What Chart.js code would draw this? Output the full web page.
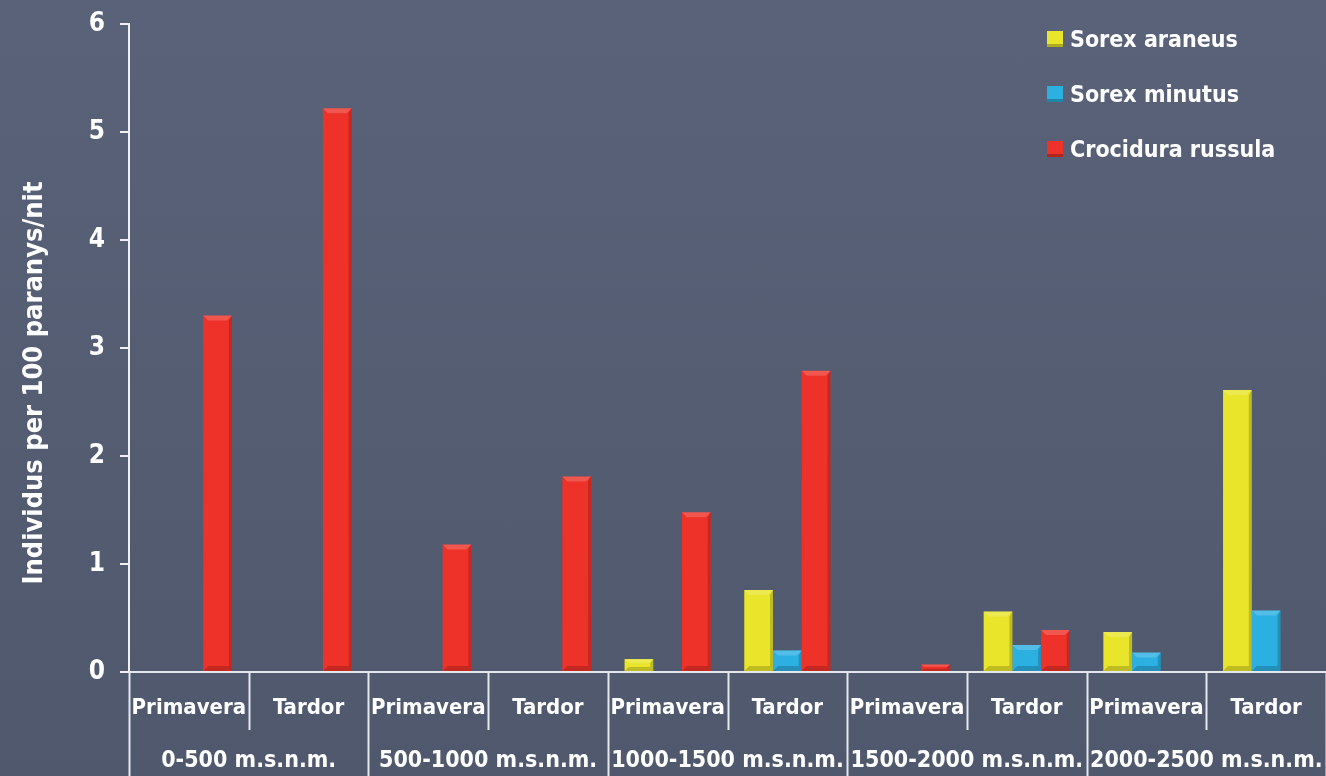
<!DOCTYPE html>
<html lang="ca">
<head>
<meta charset="UTF-8">
<title>Musaranyes per altitud</title>
<script src="https://cdn.jsdelivr.net/npm/chart.js"></script>
<style>
  html, body { margin: 0; padding: 0; }
  body {
    width: 1326px; height: 776px; overflow: hidden; position: relative;
    background: linear-gradient(#5a6279, #50586d);
    font-family: 'Liberation Sans Narrow', 'DejaVu Sans Condensed', Roboto, sans-serif;
  }
  #wrap { position: absolute; left: 0; top: 0; width: 1326px; height: 776px; }
  #llegenda { position: absolute; left: 1047px; top: 11px; color: #fff; font-weight: bold; font-size: 23px; }
  #llegenda div { display: flex; align-items: center; height: 55px; }
  #llegenda span.q { width: 16px; height: 16px; margin-right: 7px; box-sizing: border-box; border-bottom: 3px solid rgba(0,0,0,0.25); }
</style>
</head>
<body>
<div id="wrap"><canvas id="grafic" width="1326" height="776"></canvas></div>
<div id="llegenda"></div>

<script>
  const estacions = ['Primavera', 'Tardor', 'Primavera', 'Tardor', 'Primavera', 'Tardor', 'Primavera', 'Tardor', 'Primavera', 'Tardor'];
  const altituds = ['0-500 m.s.n.m.', '500-1000 m.s.n.m.', '1000-1500 m.s.n.m.', '1500-2000 m.s.n.m.', '2000-2500 m.s.n.m.'];
  const especies = ['Sorex araneus', 'Sorex minutus', 'Crocidura russula'];
  const colors = ['#e9e52b', '#2cb0e2', '#ee3129'];

  const araneus = [null, null, null, null, 0.12, 0.76, null, 0.56, 0.37, 2.61];
  const minutus = [null, null, null, null, null, 0.20, null, 0.25, 0.18, 0.57];
  const russula = [3.30, 5.22, 1.18, 1.81, 1.48, 2.79, 0.07, 0.39, null, null];

  const yTicks = [0, 1, 2, 3, 4, 5, 6];
  const titolY = 'Individus per 100 paranys/nit';
  const font = "'Liberation Sans Narrow', 'DejaVu Sans Condensed', Roboto, sans-serif";

  const series = [araneus, minutus, russula];

  // llegenda html
  const lleg = document.getElementById('llegenda');
  especies.forEach((nom, i) => {
    const d = document.createElement('div');
    d.innerHTML = '<span class="q" style="background:' + colors[i] + '"></span>' + nom;
    lleg.appendChild(d);
  });

  // separadors verticals sota l'eix x
  const separadors = {
    id: 'separadors',
    afterDraw(chart) {
      const x = chart.scales.x;
      const ctx = chart.ctx;
      const base = chart.chartArea.bottom;
      const n = estacions.length;
      ctx.save();
      ctx.strokeStyle = '#e6e8ee';
      ctx.lineWidth = 2;
      for (let i = 0; i <= n; i++) {
        let px;
        if (i === 0) px = x.left;
        else if (i === n) px = x.right;
        else px = (x.getPixelForTick(i - 1) + x.getPixelForTick(i)) / 2;
        const fi = i % 2 === 0 ? chart.height : base + 58;
        ctx.beginPath();
        ctx.moveTo(Math.round(px) + 0.5, base);
        ctx.lineTo(Math.round(px) + 0.5, fi);
        ctx.stroke();
      }
      // títol eix y
      ctx.translate(35, 383);
      ctx.rotate(-Math.PI / 2);
      ctx.fillStyle = '#ffffff';
      ctx.font = 'bold 27px ' + font;
      ctx.textAlign = 'center';
      ctx.textBaseline = 'middle';
      ctx.fillText(titolY, 0, 0);
      ctx.restore();
    }
  };

  // efecte bisellat de les barres
  const bisell = {
    id: 'bisell',
    afterDatasetsDraw(chart) {
      const ctx = chart.ctx;
      ctx.save();
      chart.data.datasets.forEach((ds, di) => {
        chart.getDatasetMeta(di).data.forEach((bar, j) => {
          if (ds.data[j] == null) return;
          const p = bar.getProps(['x', 'y', 'base', 'width'], true);
          const l = p.x - p.width / 2, r = p.x + p.width / 2;
          const h = p.base - p.y;
          const b = Math.min(5, h / 3);
          ctx.fillStyle = 'rgba(255,255,255,0.18)';
          ctx.beginPath();
          ctx.moveTo(l, p.y); ctx.lineTo(r, p.y); ctx.lineTo(r - b, p.y + b); ctx.lineTo(l + b, p.y + b);
          ctx.closePath(); ctx.fill();
          ctx.fillStyle = 'rgba(0,0,0,0.18)';
          ctx.beginPath();
          ctx.moveTo(r, p.y); ctx.lineTo(r, p.base); ctx.lineTo(r - 3, p.base - b); ctx.lineTo(r - 3, p.y + b);
          ctx.closePath(); ctx.fill();
          ctx.beginPath();
          ctx.moveTo(l, p.base); ctx.lineTo(r, p.base); ctx.lineTo(r - 3, p.base - b); ctx.lineTo(l + b, p.base - b);
          ctx.closePath(); ctx.fill();
        });
      });
      ctx.restore();
    }
  };

  const senseMarge = s => { s.paddingLeft = 0; s.paddingRight = 0; };

  new Chart(document.getElementById('grafic'), {
    type: 'bar',
    data: {
      labels: estacions,
      datasets: especies.map((nom, i) => ({
        label: nom,
        data: series[i],
        backgroundColor: colors[i],
        borderWidth: 0,
        categoryPercentage: 0.72,
        barPercentage: 1.0
      }))
    },
    options: {
      responsive: false,
      animation: false,
      layout: { padding: { top: 24, right: 0, left: 0, bottom: 0 } },
      plugins: { legend: { display: false }, tooltip: { enabled: false } },
      scales: {
        y: {
          min: 0, max: 6,
          afterBuildTicks: s => { s.ticks = yTicks.map(v => ({ value: v })); },
          afterFit: s => { s.width = 129; s.paddingTop = 0; s.paddingBottom = 0; },
          border: { color: '#f0f0f0', width: 2 },
          grid: { drawOnChartArea: false, color: '#f0f0f0', tickLength: 9, lineWidth: 2 },
          ticks: { color: '#ffffff', font: { family: font, size: 26, weight: 'bold' }, padding: 15 }
        },
        x: {
          afterFit: s => { s.height = 60; senseMarge(s); },
          border: { color: '#e6e8ee', width: 2 },
          grid: { display: false, drawTicks: false },
          ticks: { color: '#ffffff', font: { family: font, size: 22, weight: 'bold' }, padding: 23, maxRotation: 0, autoSkip: false }
        },
        x2: {
          type: 'category',
          position: 'bottom',
          labels: altituds,
          afterFit: s => { s.height = 44; senseMarge(s); },
          border: { display: false },
          grid: { display: false, drawTicks: false },
          ticks: { color: '#ffffff', font: { family: font, size: 23, weight: 'bold' }, padding: 15, maxRotation: 0, autoSkip: false }
        }
      }
    },
    plugins: [separadors, bisell]
  });
</script>
</body>
</html>
